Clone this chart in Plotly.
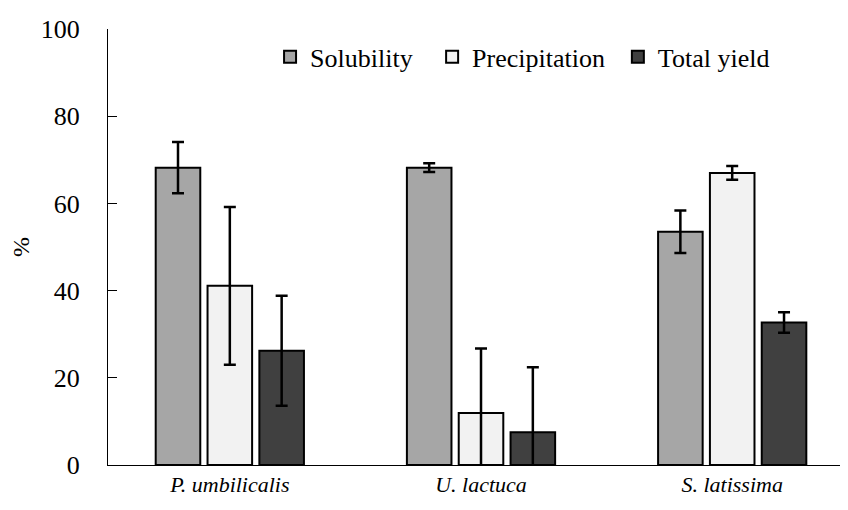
import plotly.graph_objects as go

species = ["<i>P. umbilicalis</i>", "<i>U. lactuca</i>", "<i>S. latissima</i>"]
series_names = ["Solubility", "Precipitation", "Total yield"]
solubility = [68.2, 68.2, 53.5]
solubility_err = [5.9, 1.0, 4.85]
precipitation = [41.1, 11.9, 67.0]
precipitation_err = [18.1, 14.8, 1.6]
total_yield = [26.2, 7.5, 32.7]
total_yield_err = [12.6, 14.9, 2.35]
y_ticks = [0, 20, 40, 60, 80, 100]

colors = ["#a6a6a6", "#f2f2f2", "#404040"]
values = [solubility, precipitation, total_yield]
errors = [solubility_err, precipitation_err, total_yield_err]
legend_ids = ["legend", "legend2", "legend3"]
legend_x = [0.219, 0.438, 0.689]

font_family = "Liberation Serif"
def fnt(size):
    return dict(family=font_family, size=size, color="black")

fig = go.Figure()
for name, vals, errs, col, lid in zip(series_names, values, errors, colors, legend_ids):
    fig.add_trace(go.Bar(
        name=name, x=species, y=vals, legend=lid,
        marker=dict(color=col, line=dict(color="black", width=2)),
        error_y=dict(type="data", array=errs, visible=True, color="black",
                     thickness=2.5, width=6),
    ))

legend_layout = {}
for lid, lx in zip(legend_ids, legend_x):
    legend_layout[lid] = dict(orientation="h", x=lx, xanchor="left", y=0.936,
                              yanchor="middle", font=fnt(26), bgcolor="rgba(0,0,0,0)")

fig.update_layout(
    template="none",
    width=840, height=502,
    margin=dict(l=100, r=0, t=21, b=45),
    paper_bgcolor="white", plot_bgcolor="white",
    barmode="group", bargap=0.381, bargroupgap=0.14,
    font=fnt(24),
    showlegend=True,
    xaxis=dict(type="category", range=[-0.485, 2.461], showline=True, linecolor="black",
               linewidth=1, ticks="", showgrid=False, zeroline=False, tickfont=fnt(22)),
    yaxis=dict(range=[0, 100], tickvals=y_ticks, showline=True, linecolor="black",
               linewidth=1, ticks="inside", ticklen=9, tickcolor="black",
               showgrid=False, zeroline=False, ticklabelstandoff=22,
               title=dict(text="%", standoff=26, font=fnt(24)), tickfont=fnt(26)),
    **legend_layout,
)

fig.write_html("out.html")
